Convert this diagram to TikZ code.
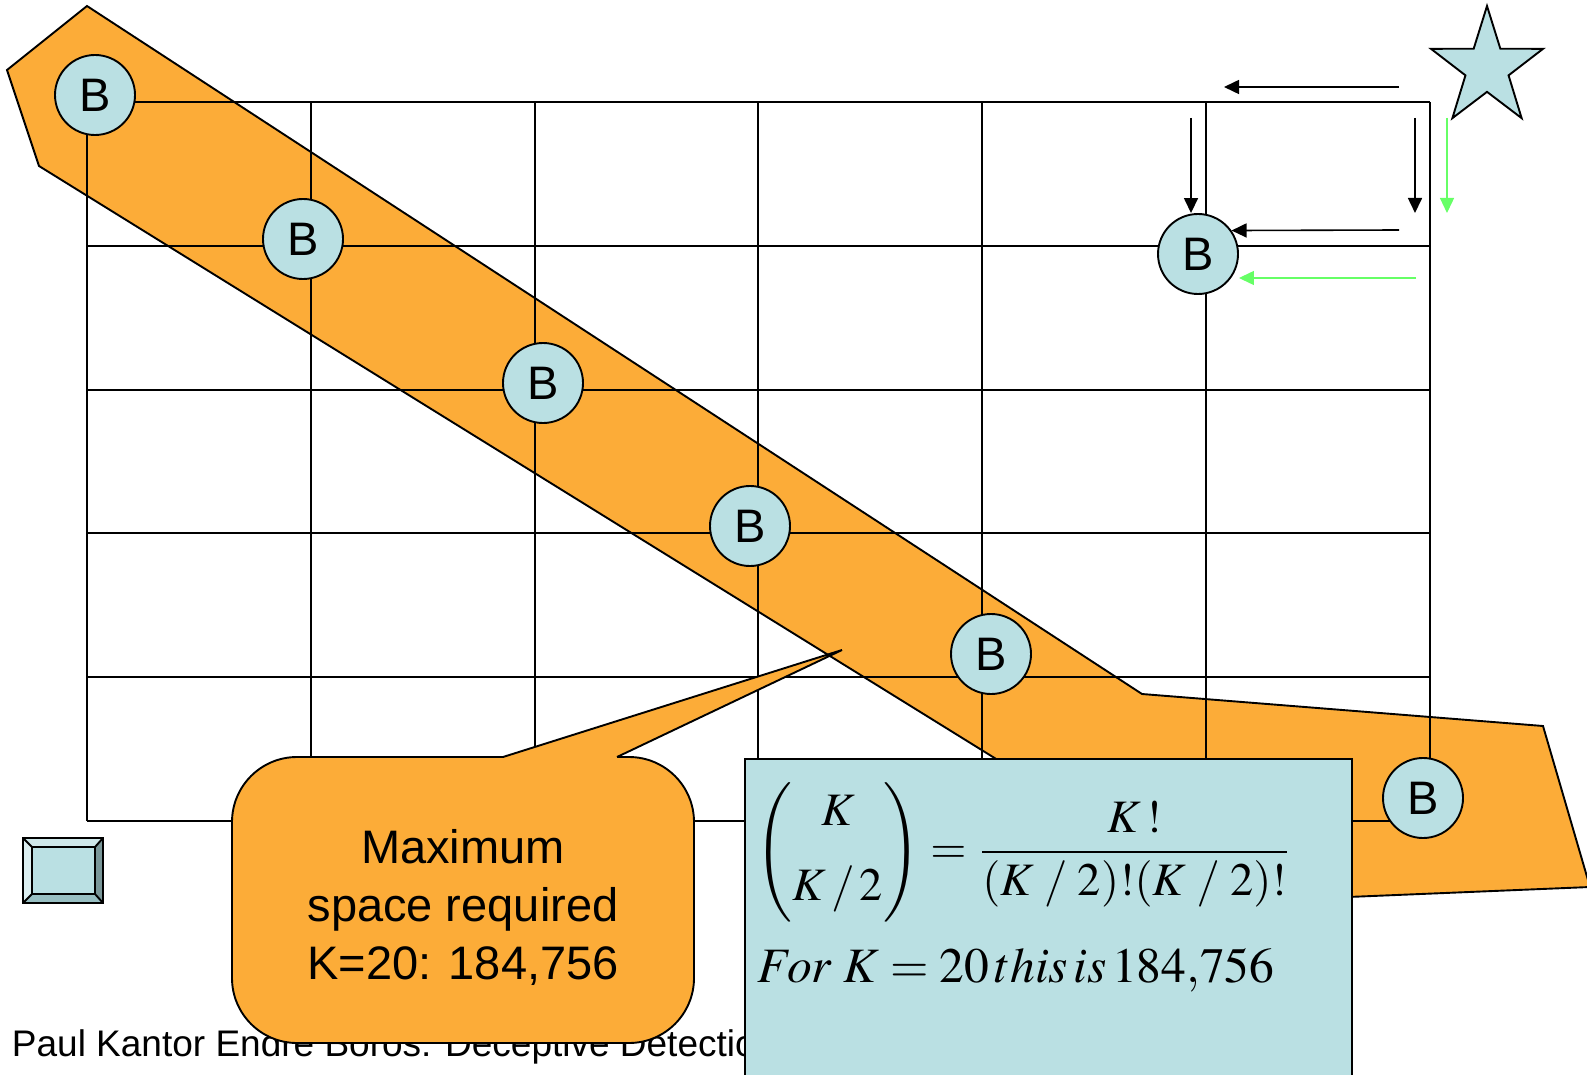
\documentclass[tikz,border=0pt]{standalone}
\usepackage{amsmath}
\usepackage{mathptmx}
\usepackage[no-math]{fontspec}
\setmainfont{Liberation Sans}
\usepackage{graphicx}
\usetikzlibrary{arrows.meta, positioning, shapes.geometric}
\definecolor{bandOrange}{HTML}{FCAC38}
\definecolor{nodeBlue}{HTML}{BAE0E3}
\definecolor{pathGreen}{HTML}{66FF66}
\definecolor{bevelLight}{HTML}{DCEFF1}
\definecolor{bevelTop}{HTML}{CFE8EA}
\definecolor{bevelMid}{HTML}{98BFC2}
\definecolor{bevelDark}{HTML}{7A9799}

\begin{document}
\begin{tikzpicture}[
  x=1pt, y=-1pt, line width=1.9pt,
  bnode/.style={circle, draw, fill=nodeBlue, minimum size=80pt, inner sep=0pt,
                font=\fontsize{47}{47}\selectfont},
  ar/.style={-{Triangle[length=15pt, width=14pt]}},
  gar/.style={ar, draw=pathGreen, fill=pathGreen, line width=1.3pt},
  callout/.style={draw, fill=bandOrange, rounded corners=65pt, minimum width=462pt,
                  minimum height=286pt},
  fbox/.style={draw, fill=nodeBlue, minimum width=607pt, minimum height=340pt,
               inner sep=0pt, anchor=north west},
]
\useasboundingbox (0,0) rectangle (1587,1075);
\clip (0,0) rectangle (1587,1075);

% band of B nodes
\draw[fill=bandOrange] (87,6) -- (7,70) -- (39,166) -- (1227,902) -- (1590,887)
  -- (1543,726) -- (1142,694) -- cycle;

% grid
\foreach \i in {0,...,6}
  \draw ({87+223.8*\i},102) -- ({87+223.8*\i},821);
\foreach \j in {0,...,5}
  \draw (87,{102+143.8*\j}) -- (1430,{102+143.8*\j});

% B nodes
\node[bnode] (b1) at (95,95) {B};
\node[bnode] (b2) at (303,239) {B};
\node[bnode] (b3) at (543,383) {B};
\node[bnode] (b4) at (750,526) {B};
\node[bnode] (b5) at (991,654) {B};
\node[bnode] (b6) at (1423,798) {B};
\node[bnode] (bx) at (1198,254) {B};

% target and paths towards it
\node[star, star points=5, star point ratio=2.6, minimum size=124pt, inner sep=0pt,
      draw, fill=nodeBlue, xscale=0.95] (goal) at (1487,68) {};
\coordinate (topr) at (1399,87);
\coordinate (topl) at (1224,87);
\coordinate (midr) at (1399,230);
\coordinate (lowr) at (1416,278);
\draw[ar, line width=1.6pt] (topr) -- (topl);
\draw[ar, line width=1.6pt] (1191,118) -- (bx.north -| 1191,0);
\draw[ar, line width=1.6pt] (1415,118) -- (1415,213);
\draw[gar] (1447,118) -- (1447,213);
\draw[ar, line width=1.6pt] (midr) -- (bx.35);
\draw[gar] (lowr) -- (bx.east |- lowr);

% footer
\node[anchor=base west, inner sep=0pt, font=\fontsize{37}{37}\selectfont] (footer)
  at (11,1056) {Paul Kantor Endre Boros: Deceptive Detection};

% callout
\node[callout] (maxspace) at (463,900) {};
\coordinate (tip) at (842,650);
\fill[bandOrange] (503,757) -- (tip) -- (617,757) -- (617,762) -- (503,762) -- cycle;
\draw (503,757) -- (tip) -- (617,757);
\node[align=center, font=\fontsize{47}{58}\selectfont] (maxtext)
  at ([yshift=-7pt]maxspace.center) {Maximum\\space required\\K=20: 184,756};

% formula
\node[fbox] (fbox) at (744,758) {};
\node[anchor=west, inner sep=0pt] (binom) at (755,852)
  {\scalebox{4.65}{$\arraycolsep=0pt\left(\begin{array}{c}K\\[4pt]K\,/\,2\end{array}\right)
   =\displaystyle\frac{K\,!}{(K\mkern4mu/\mkern4mu2)!(K\mkern4mu/\mkern4mu2)!}$}};
\node[anchor=west, inner sep=0pt] (count) at (757,970)
  {\scalebox{4.95}{$For\;K=20\,this\,is\,184{,}756$}};

% button
\fill[bevelLight] (23,838) -- (32,847) -- (32,894) -- (23,903) -- cycle;
\fill[bevelTop] (23,838) -- (103,838) -- (95,847) -- (32,847) -- cycle;
\fill[bevelDark] (103,838) -- (103,903) -- (95,894) -- (95,847) -- cycle;
\fill[bevelMid] (23,903) -- (32,894) -- (95,894) -- (103,903) -- cycle;
\draw[fill=nodeBlue] (32,847) rectangle (95,894);
\draw (23,838) rectangle (103,903);
\draw (23,838) -- (32,847) (103,838) -- (95,847) (103,903) -- (95,894) (23,903) -- (32,894);
\end{tikzpicture}
\end{document}
